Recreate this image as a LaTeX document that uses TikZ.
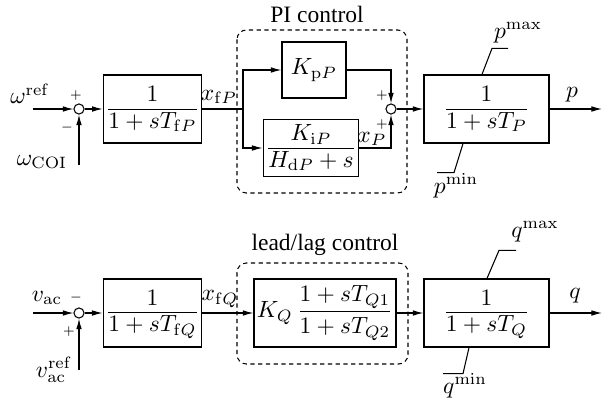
\documentclass[tikz,border=0pt]{standalone}
\usepackage{amsmath}
\usepackage[no-math]{fontspec}
\setmainfont{Liberation Serif}
\usetikzlibrary{arrows.meta}
\definecolor{figline}{RGB}{0,0,0}
\newcommand{\blkfrac}[2]{\frac{\textstyle\mathstrut #1}{\textstyle\mathstrut #2}}
\tikzset{
  ln/.style   ={draw=figline, line width=0.45pt},
  ptr/.style  ={draw=figline, line width=0.45pt, -{Latex[length=4.5pt,width=2.4pt]}},
  blk/.style  ={draw=figline, line width=0.55pt, inner sep=1pt, minimum height=28.9pt},
  sumc/.style ={draw=figline, line width=0.45pt, circle, minimum size=4.3pt, inner sep=0pt},
  grp/.style  ={draw=figline, line width=0.45pt, dash pattern=on 1.8pt off 1.5pt, rounded corners=4pt},
  lab/.style  ={inner sep=1pt},
  sgn/.style  ={font=\tiny, inner sep=0pt},
}

\begin{document}
\begin{tikzpicture}[x=0.4255pt, y=-0.4255pt]
  \useasboundingbox (0,0) rectangle (613,398);
  % active power channel
  \begin{scope}
  \coordinate (inA) at (33,109);
  \coordinate (coiA) at (79,165);
  \coordinate (brA) at (243,109);
  \coordinate (outA) at (602,109);
  \node[lab] (lwref) at (30,94) {$\omega^{\mathrm{ref}}$};
  \node[lab] (lwcoi) at (42,162) {$\omega_{\mathrm{COI}}$};
  \node[sumc] (sumA) at (79,109) {};
  \node[sgn] (sgA1) at (76,96) {$+$};
  \node[sgn] (sgA2) at (67,128) {$-$};
  \node[blk, minimum width=38.7pt] (blkfP) at (152.5,109) {$\blkfrac{1}{1+sT_{\mathrm{f}P}}$};
  \node[lab] (lxfP) at (219,97) {$x_{\mathrm{f}P}$};
  \node[blk, minimum width=27.2pt, minimum height=23.8pt] (blkKp) at (314,70) {$K_{\mathrm{p}P}$};
  \node[blk, minimum width=39.1pt, minimum height=24.3pt] (blkKi) at (311,148) {$\blkfrac{K_{\mathrm{i}P}}{H_{\mathrm{d}P}+s}$};
  \node[lab] (lxP) at (372,139) {$x_P$};
  \node[sumc] (sumB) at (391,109) {};
  \node[sgn] (sgB1) at (382,96) {$+$};
  \node[sgn] (sgB2) at (382,125) {$+$};
  \node[blk, minimum width=53.2pt] (blkP) at (486.5,109) {$\blkfrac{1}{1+sT_P}$};
  \node[lab] (lpout) at (572,95) {$p$};
  \node[lab] (lpmax) at (518,33) {$p^{\max}$};
  \node[lab] (lpmin) at (456,186) {$p^{\min}$};
  \draw[grp] (237,30) rectangle (407,193);
  \node[lab] (tPI) at (317,14) {PI control};
  \draw[ptr] (inA) -- (sumA);
  \draw[ptr] (coiA) -- (sumA);
  \draw[ptr] (sumA) -- (blkfP);
  \draw[ln] (blkfP) -- (brA);
  \draw[ptr] (brA) |- (blkKp);
  \draw[ptr] (brA) |- (blkKi);
  \draw[ptr] (blkKp) -| (sumB);
  \draw[ptr] (blkKi) -| (sumB);
  \draw[ptr] (sumB) -- (blkP);
  \draw[ptr] (blkP) -- (outA);
  \draw[ln] (blkP.north) ++(-4.5,0) -- ++(10,-26) -- ++(16,0);
  \draw[ln] (blkP.south) ++(-23.5,0) -- ++(-9,29) -- ++(-17,0);
  \end{scope}
  % reactive power channel
  \begin{scope}
  \coordinate (inC) at (33,313);
  \coordinate (refC) at (79,370);
  \coordinate (outC) at (602,313);
  \node[lab] (lvac) at (47,298) {$v_{\mathrm{ac}}$};
  \node[lab] (lvref) at (54,370) {$v_{\mathrm{ac}}^{\mathrm{ref}}$};
  \node[sumc] (sumC) at (79,313) {};
  \node[sgn] (sgC1) at (76,298) {$-$};
  \node[sgn] (sgC2) at (69,332) {$+$};
  \node[blk, minimum width=38.7pt] (blkfQ) at (152.5,313) {$\blkfrac{1}{1+sT_{\mathrm{f}Q}}$};
  \node[lab] (lxfQ) at (220,299) {$x_{\mathrm{f}Q}$};
  \node[blk, minimum width=60.4pt, inner sep=0.5pt] (blkLL) at (325,313) {$K_Q\,\dfrac{1+sT_{Q1}}{1+sT_{Q2}}$};
  \node[blk, minimum width=53.2pt] (blkQ) at (486.5,313) {$\blkfrac{1}{1+sT_Q}$};
  \node[lab] (lqout) at (575,296) {$q$};
  \node[lab] (lqmax) at (535,232) {$q^{\max}$};
  \node[lab] (lqmin) at (465,386) {$q^{\min}$};
  \draw[grp] (237,263) rectangle (408,364);
  \node[lab] (tLL) at (325,245) {lead/lag control};
  \draw[ptr] (inC) -- (sumC);
  \draw[ptr] (refC) -- (sumC);
  \draw[ptr] (sumC) -- (blkfQ);
  \draw[ptr] (blkfQ) -- (blkLL);
  \draw[ptr] (blkLL) -- (blkQ);
  \draw[ptr] (blkQ) -- (outC);
  \draw[ln] (blkQ.north) ++(0.5,0) -- ++(12,-28) -- ++(17,0);
  \draw[ln] (blkQ.south) ++(-17.5,0) -- ++(-6,26) -- ++(-20,0);
  \end{scope}
\end{tikzpicture}
\end{document}
